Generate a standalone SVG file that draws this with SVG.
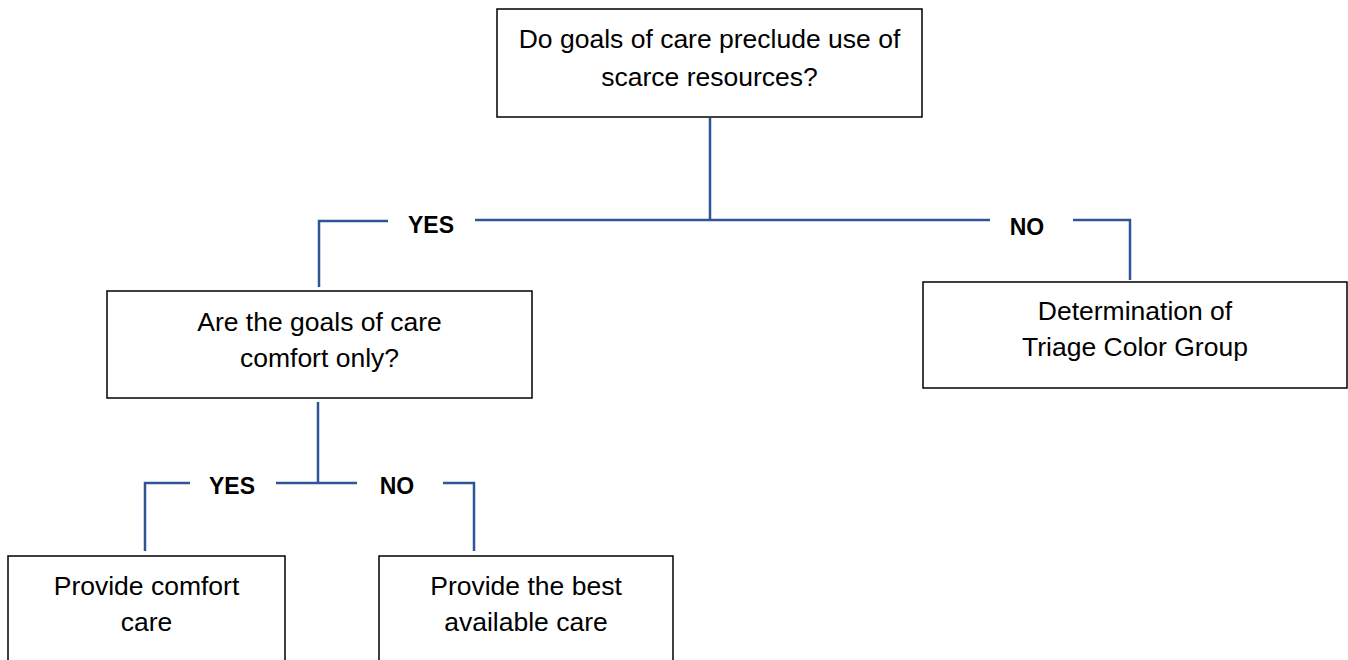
<svg xmlns="http://www.w3.org/2000/svg" width="1348" height="660" viewBox="0 0 1348 660">
<style>
.box{fill:#fff;stroke:#000;stroke-width:1.5}
.t{font-family:"Liberation Sans",Arial,sans-serif;font-size:26.5px;fill:#000;text-anchor:middle}
.lbl{font-family:"Liberation Sans",Arial,sans-serif;font-size:23px;font-weight:bold;fill:#000;text-anchor:middle}
.c{fill:none;stroke:#2F5597;stroke-width:2.5}
</style>
<rect width="1348" height="660" fill="#fff"/>
<g id="connectors">
<path class="c" d="M710,118 V220"/>
<path class="c" d="M475,220 H990"/>
<path class="c" d="M388,221 H319 V287"/>
<path class="c" d="M1073,220 H1130 V280"/>
<path class="c" d="M318,402 V483"/>
<path class="c" d="M276,483 H357"/>
<path class="c" d="M190,483 H145 V551"/>
<path class="c" d="M443,483 H474 V551"/>
<text class="lbl" x="431" y="233">YES</text>
<text class="lbl" x="1027" y="235">NO</text>
<text class="lbl" x="232" y="494">YES</text>
<text class="lbl" x="397" y="494">NO</text>
</g>
<g id="n1">
<rect class="box" x="497" y="9" width="425" height="108"/>
<text class="t" x="709.5" y="48">Do goals of care preclude use of</text>
<text class="t" x="709.5" y="86">scarce resources?</text>
</g>
<g id="n2">
<rect class="box" x="107" y="291" width="425" height="107"/>
<text class="t" x="319.5" y="331">Are the goals of care</text>
<text class="t" x="319.5" y="367">comfort only?</text>
</g>
<g id="n3">
<rect class="box" x="923" y="282" width="424" height="106"/>
<text class="t" x="1135" y="320">Determination of</text>
<text class="t" x="1135" y="356">Triage Color Group</text>
</g>
<g id="n4">
<rect class="box" x="8" y="556" width="277" height="120"/>
<text class="t" x="146.5" y="595">Provide comfort</text>
<text class="t" x="146.5" y="631">care</text>
</g>
<g id="n5">
<rect class="box" x="379" y="556" width="294" height="120"/>
<text class="t" x="526" y="595">Provide the best</text>
<text class="t" x="526" y="631">available care</text>
</g>
</svg>
